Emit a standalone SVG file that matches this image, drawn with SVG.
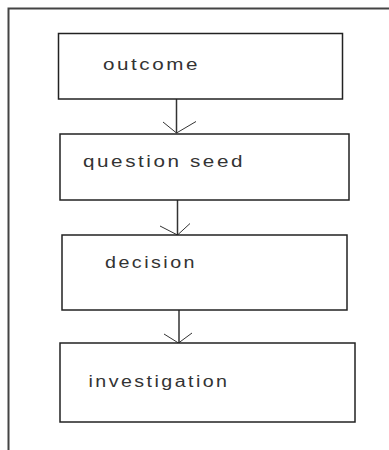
<svg xmlns="http://www.w3.org/2000/svg" width="389" height="450" viewBox="0 0 389 450">
<style>
.frame{fill:none;stroke:#444;stroke-width:2}
.box{fill:#fff;stroke:#222;stroke-width:1.5}
.lbl{font-family:"Liberation Sans",Arial,sans-serif;font-size:16px;letter-spacing:2px;fill:#333}
.conn{fill:none;stroke:#333;stroke-width:1.5}
.head{fill:none;stroke:#333;stroke-width:1}
</style>
<rect width="389" height="450" fill="#fff"/>
<g id="frame">
<polyline class="frame" points="8.5,450 8.5,8.5 389,8.5"/>
</g>
<g id="connectors">
<line class="conn" x1="176.5" y1="99" x2="176.5" y2="133"/>
<polyline class="head" points="163,122 176.5,133 196,121.5"/>
<line class="conn" x1="177.5" y1="200" x2="177.5" y2="235"/>
<polyline class="head" points="160,226 177.5,235 190,223.5"/>
<line class="conn" x1="179" y1="310" x2="179" y2="343"/>
<polyline class="head" points="164,334 178.5,343 192,333"/>
</g>
<g id="node-outcome">
<rect class="box" x="58.5" y="33.5" width="284" height="65.5"/>
<text class="lbl" x="103" y="69.5" textLength="97" lengthAdjust="spacingAndGlyphs">outcome</text>
</g>
<g id="node-question-seed">
<rect class="box" x="60" y="134" width="289" height="66"/>
<text class="lbl" x="83" y="167" textLength="162" lengthAdjust="spacingAndGlyphs">question seed</text>
</g>
<g id="node-decision">
<rect class="box" x="62" y="235" width="285" height="75"/>
<text class="lbl" x="105" y="268.3" textLength="92" lengthAdjust="spacingAndGlyphs">decision</text>
</g>
<g id="node-investigation">
<rect class="box" x="60" y="343" width="295" height="79"/>
<text class="lbl" x="88.5" y="386.5" textLength="141" lengthAdjust="spacingAndGlyphs">investigation</text>
</g>
</svg>
